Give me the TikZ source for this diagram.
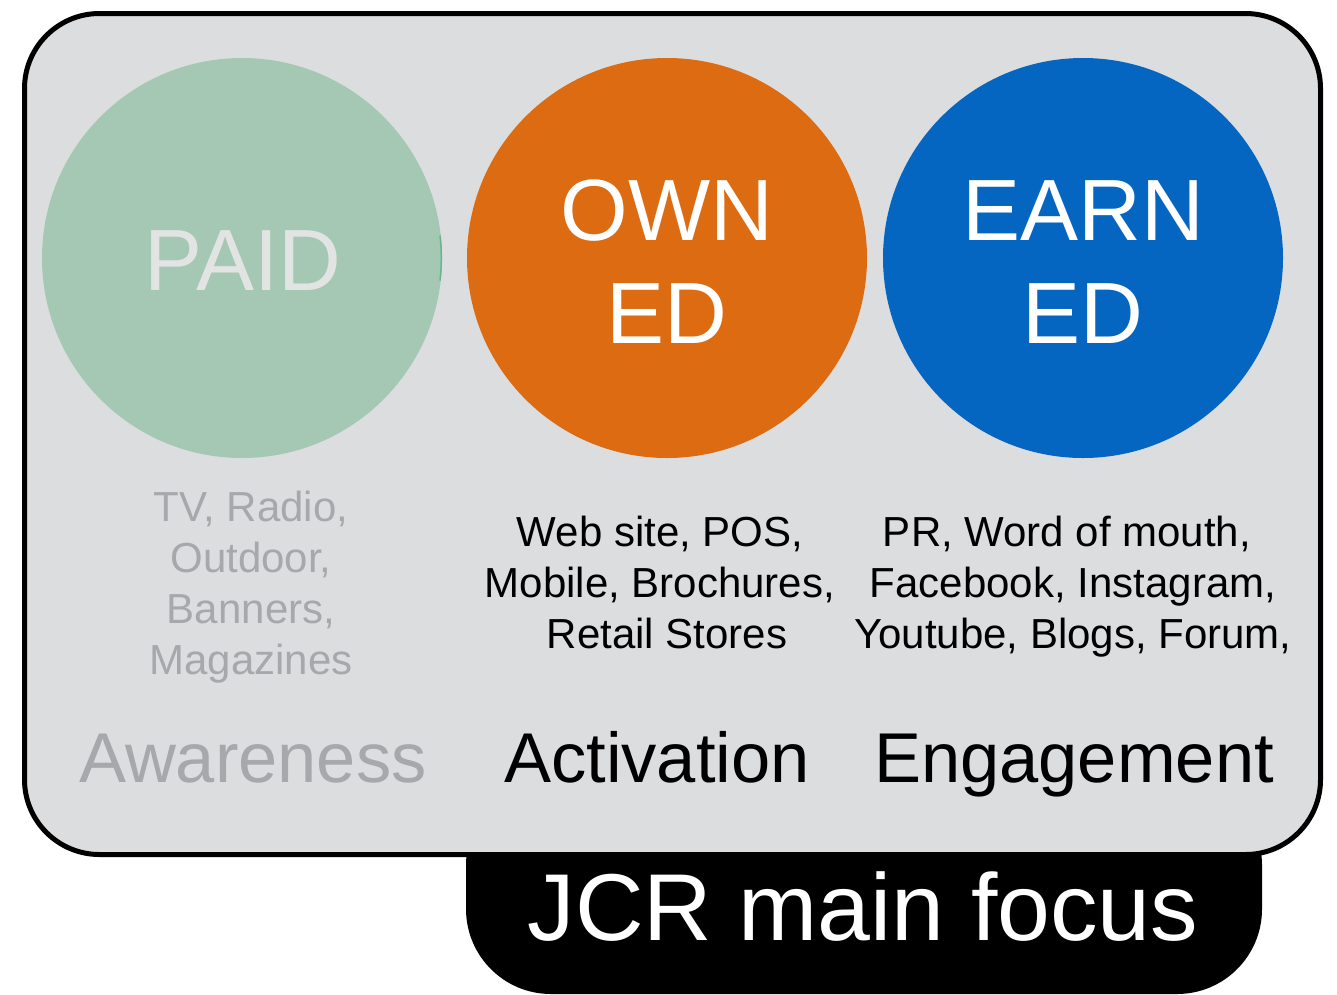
\documentclass[tikz,border=0pt]{standalone}
\usepackage{fontspec}
\setmainfont{Liberation Sans}
\definecolor{panelbg}{HTML}{DCDDDF}
\definecolor{paidgreen}{HTML}{A4C8B3}
\definecolor{paiddark}{HTML}{6DB38A}
\definecolor{ownorange}{HTML}{DD6B12}
\definecolor{earnblue}{HTML}{0566C2}
\definecolor{softgray}{HTML}{A6A8AB}
\definecolor{paidtext}{HTML}{E2E4E4}
\tikzset{
  bigword/.style={font=\fontsize{87}{105}\selectfont, align=center, inner sep=0pt},
  listtext/.style={font=\fontsize{42}{51.5}\selectfont, align=center, inner sep=0pt},
  stagetext/.style={font=\fontsize{70.5}{80}\selectfont, inner sep=0pt},
  disc/.style={circle, minimum size=400pt, inner sep=0pt, draw=none}
}
\begin{document}
\begin{tikzpicture}[x=1pt,y=-1pt]
\useasboundingbox (0,0) rectangle (1337,994);
% black tab
\fill[black, rounded corners=85pt] (466,780) -- (466,994) -- (1262,994) -- (1262,780) -- cycle;
% main panel
\draw[line width=5pt, fill=panelbg, rounded corners=75pt] (24.5,13.5) rectangle (1320.5,854.5);
% circles
\node[disc, fill=paidgreen] (paid) at (242,258) {};
\node[disc, fill=ownorange] (owned) at (667,258) {};
\node[disc, fill=earnblue] (earned) at (1083,258) {};
\draw[paiddark, line width=1.5pt] (paid.center) ++(-6.5:199.3pt) arc[start angle=-6.5, end angle=6.5, radius=199.3pt];
% circle words
\node[bigword, text=paidtext, anchor=base] (paidw) at (243,290) {PAID};
\node[bigword, text=white, anchor=base] (ownw1) at (667,240) {OWN};
\node[bigword, text=white, anchor=base] (ownw2) at (667,343) {ED};
\node[bigword, text=white, anchor=base] (earnw1) at (1083,240) {EARN};
\node[bigword, text=white, anchor=base] (earnw2) at (1083,343) {ED};
% lists
\node[listtext, text=softgray, anchor=base] (pl1) at (251,521) {TV, Radio,};
\node[listtext, text=softgray, anchor=base] (pl2) at (251,572) {Outdoor,};
\node[listtext, text=softgray, anchor=base] (pl3) at (251,623) {Banners,};
\node[listtext, text=softgray, anchor=base] (pl4) at (251,674) {Magazines};
\node[listtext, text=black, anchor=base] (ol1) at (660,546) {Web site, POS,};
\node[listtext, text=black, anchor=base] (ol2) at (660,597) {Mobile, Brochures,};
\node[listtext, text=black, anchor=base] (ol3) at (667,648) {Retail Stores};
\node[listtext, text=black, anchor=base] (el1) at (1067,546) {PR, Word of mouth,};
\node[listtext, text=black, anchor=base] (el2) at (1073,597) {Facebook, Instagram,};
\node[listtext, text=black, anchor=base] (el3) at (1073,648) {Youtube, Blogs, Forum,};
% stages
\node[stagetext, text=softgray, anchor=base] (aw) at (253,782) {Awareness};
\node[stagetext, text=black, anchor=base] (ac) at (657,782) {Activation};
\node[stagetext, text=black, anchor=base] (en) at (1074,782) {Engagement};
% tab label
\node[font=\fontsize{95}{100}\selectfont, text=white, anchor=base, inner sep=0pt] (focus) at (863,940) {JCR main focus};
\end{tikzpicture}
\end{document}
